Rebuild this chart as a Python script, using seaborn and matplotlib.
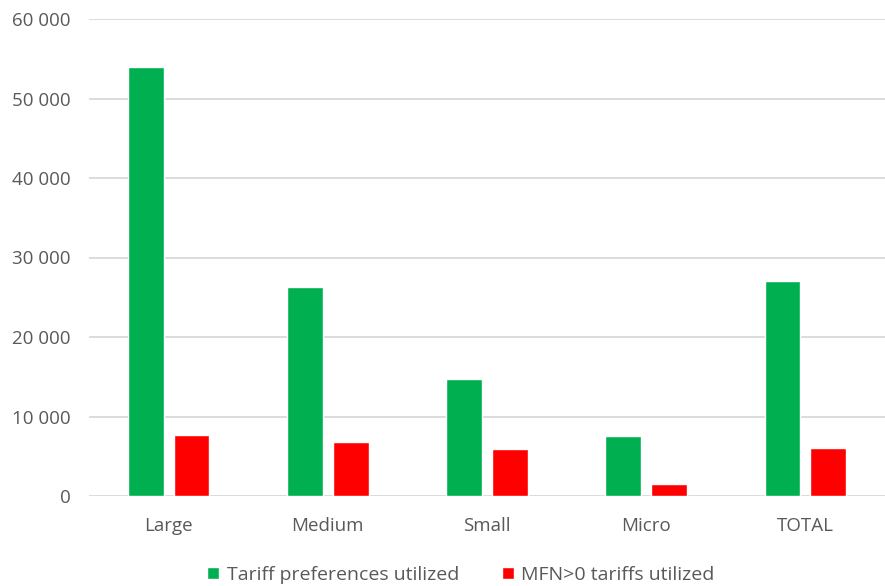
import numpy as np
import matplotlib
matplotlib.use("Agg")
import matplotlib.pyplot as plt
import pandas as pd
import seaborn as sns
from matplotlib.ticker import FuncFormatter

categories = ["Large", "Medium", "Small", "Micro", "TOTAL"]
tariff_pref = [53900, 26300, 14700, 7500, 27000]
mfn_tariffs = [7700, 6800, 5900, 1500, 6100]
series = ["Tariff preferences utilized", "MFN>0 tariffs utilized"]

data = pd.DataFrame({
    "category": categories * 2,
    "value": tariff_pref + mfn_tariffs,
    "series": [series[0]] * len(categories) + [series[1]] * len(categories),
})

sns.set_theme(style="white")
plt.rcParams['font.family'] = ['Open Sans', 'DejaVu Sans']
text_col = "#595959"

fig = plt.figure(figsize=(8.85, 5.86), dpi=100)
ax = fig.add_axes([89 / 885, 1 - 496 / 586, 796 / 885, 477 / 586])

sns.barplot(data=data, x="category", y="value", hue="series",
            palette=["#00B050", "#FF0000"], width=0.575, gap=0.22,
            saturation=1, ax=ax, legend=True)

ax.set_ylim(0, 60000)
ax.set_yticks(np.arange(0, 60001, 10000))
ax.yaxis.set_major_formatter(FuncFormatter(lambda v, p: f"{int(v):,}".replace(",", " ")))
ax.yaxis.grid(True, color="#D9D9D9", linewidth=1.3)
ax.xaxis.grid(False)
ax.set_axisbelow(True)
for s in ax.spines.values():
    s.set_visible(False)
ax.set_xlabel("")
ax.set_ylabel("")
ax.tick_params(axis="both", colors=text_col, labelsize=13.5, length=0)
ax.tick_params(axis="x", pad=15)
ax.tick_params(axis="y", pad=13)

handles, labels = ax.get_legend_handles_labels()
ax.get_legend().remove()
fig.legend(handles, labels, loc="center", bbox_to_anchor=(461 / 885, 1 - 575 / 586),
           ncol=2, frameon=False, fontsize=14, labelcolor=text_col,
           handlelength=0.6, handleheight=0.6, handletextpad=0.4, columnspacing=2.2)

fig.savefig("out.png", dpi=100)
